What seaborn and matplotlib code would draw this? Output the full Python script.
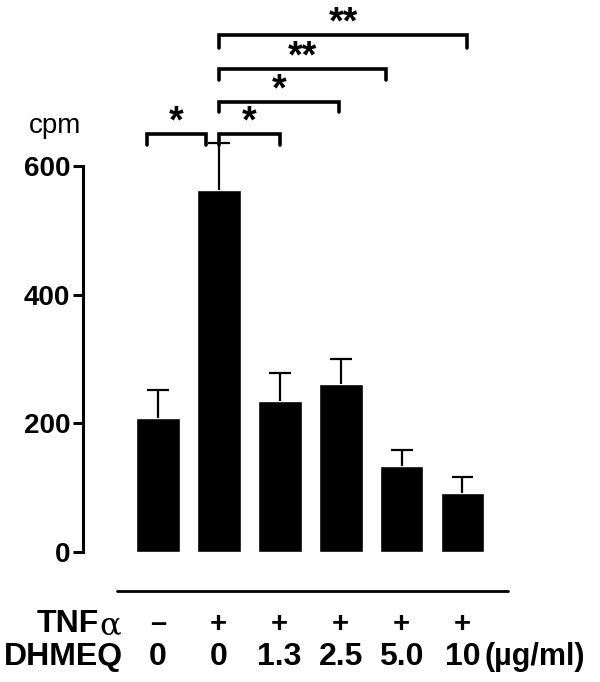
import numpy as np
import pandas as pd
import seaborn as sns
from matplotlib import pyplot as plt
from matplotlib.lines import Line2D
import matplotlib.transforms as mtransforms

# values
groups = ['ctrl', 'TNF', 'TNF+1.3', 'TNF+2.5', 'TNF+5.0', 'TNF+10']
cpm = [208, 563, 235, 262, 134, 91]
sem = [44, 73, 43, 38, 24, 25]
tnf_labels = ['\u2013', '+', '+', '+', '+', '+']
dhmeq_labels = ['0', '0', '1.3', '2.5', '5.0', '10']
yticks = [0, 200, 400, 600]

# significance brackets: (left, right, top, leg bottom, stars)
brackets = [(-0.18, 0.79, 650, 633, '*'),
            (1.0, 2.0, 650, 633, '*'),
            (1.0, 2.98, 700, 684, '*'),
            (1.0, 3.75, 751, 734, '**'),
            (1.0, 5.08, 804, 784, '**')]

df = pd.DataFrame({'group': groups, 'cpm': cpm, 'sem': sem})

sns.set_style('white')
plt.rcParams['font.family'] = ['Liberation Sans', 'DejaVu Sans']
plt.rcParams['text.color'] = 'black'
plt.rcParams['ytick.color'] = 'black'
plt.rcParams['axes.edgecolor'] = 'black'

fig = plt.figure(figsize=(6, 6.82), dpi=100)
ax = fig.add_axes([0.138, 0.1906, 0.708, 0.792])

sns.barplot(data=df, x='group', y='cpm', color='black', width=0.72,
            errorbar=None, saturation=1, ax=ax)
# upper error bars only
xs = np.arange(len(groups))
tops = np.array(cpm) + np.array(sem)
ax.vlines(xs, cpm, tops, color='black', lw=1.6)
ax.hlines(tops, xs - 0.18, xs + 0.18, color='black', lw=1.6)

ax.set_xlim(-1.23, 5.74)
ax.set_ylim(0, 840)
ax.set_xticks([])
ax.set_xlabel('')
ax.set_ylabel('')
ax.set_yticks(yticks)
ax.set_yticklabels([str(t) for t in yticks], fontsize=20, fontweight='bold')
ax.tick_params(axis='y', length=7, width=2.2, pad=2, left=True, colors='black')
for s in ['top', 'right', 'bottom']:
    ax.spines[s].set_visible(False)
ax.spines['left'].set_linewidth(2.2)
ax.spines['left'].set_bounds(0, 600)

ax.text(-1.25, 652, 'cpm', fontsize=20, ha='right', va='baseline')

for x1, x2, top, leg, stars in brackets:
    ax.plot([x1, x1, x2, x2], [leg, top, top, leg], color='black', lw=2.6,
            solid_joinstyle='miter', clip_on=False)
    ax.text((x1 + x2) / 2, top + 2, stars, fontsize=27, fontweight='bold',
            ha='center', va='baseline')

# line under the bars and condition labels
fig.add_artist(Line2D([117 / 600, 508 / 600], [1 - 591 / 682, 1 - 591 / 682],
                      color='black', lw=2))
trans = mtransforms.blended_transform_factory(ax.transData, fig.transFigure)
for i in range(len(groups)):
    ax.text(i, 1 - 624 / 682, tnf_labels[i], transform=trans, fontsize=21,
            fontweight='bold', ha='center', va='center')
    ax.text(i, 1 - 657 / 682, dhmeq_labels[i], transform=trans, fontsize=23,
            fontweight='bold', ha='center', va='center')
fig.text(99 / 600, 1 - 624 / 682, 'TNF', fontsize=23, fontweight='bold',
         ha='right', va='center')
fig.text(99 / 600, 1 - 626 / 682, '\u03b1', fontsize=23, family='DejaVu Serif',
         ha='left', va='center')
fig.text(4 / 600, 1 - 657 / 682, 'DHMEQ', fontsize=23, fontweight='bold',
         ha='left', va='center')
fig.text(484 / 600, 1 - 657 / 682, '(\u00b5g/ml)', fontsize=22, fontweight='bold',
         ha='left', va='center')

fig.savefig('out.png', dpi=100)
